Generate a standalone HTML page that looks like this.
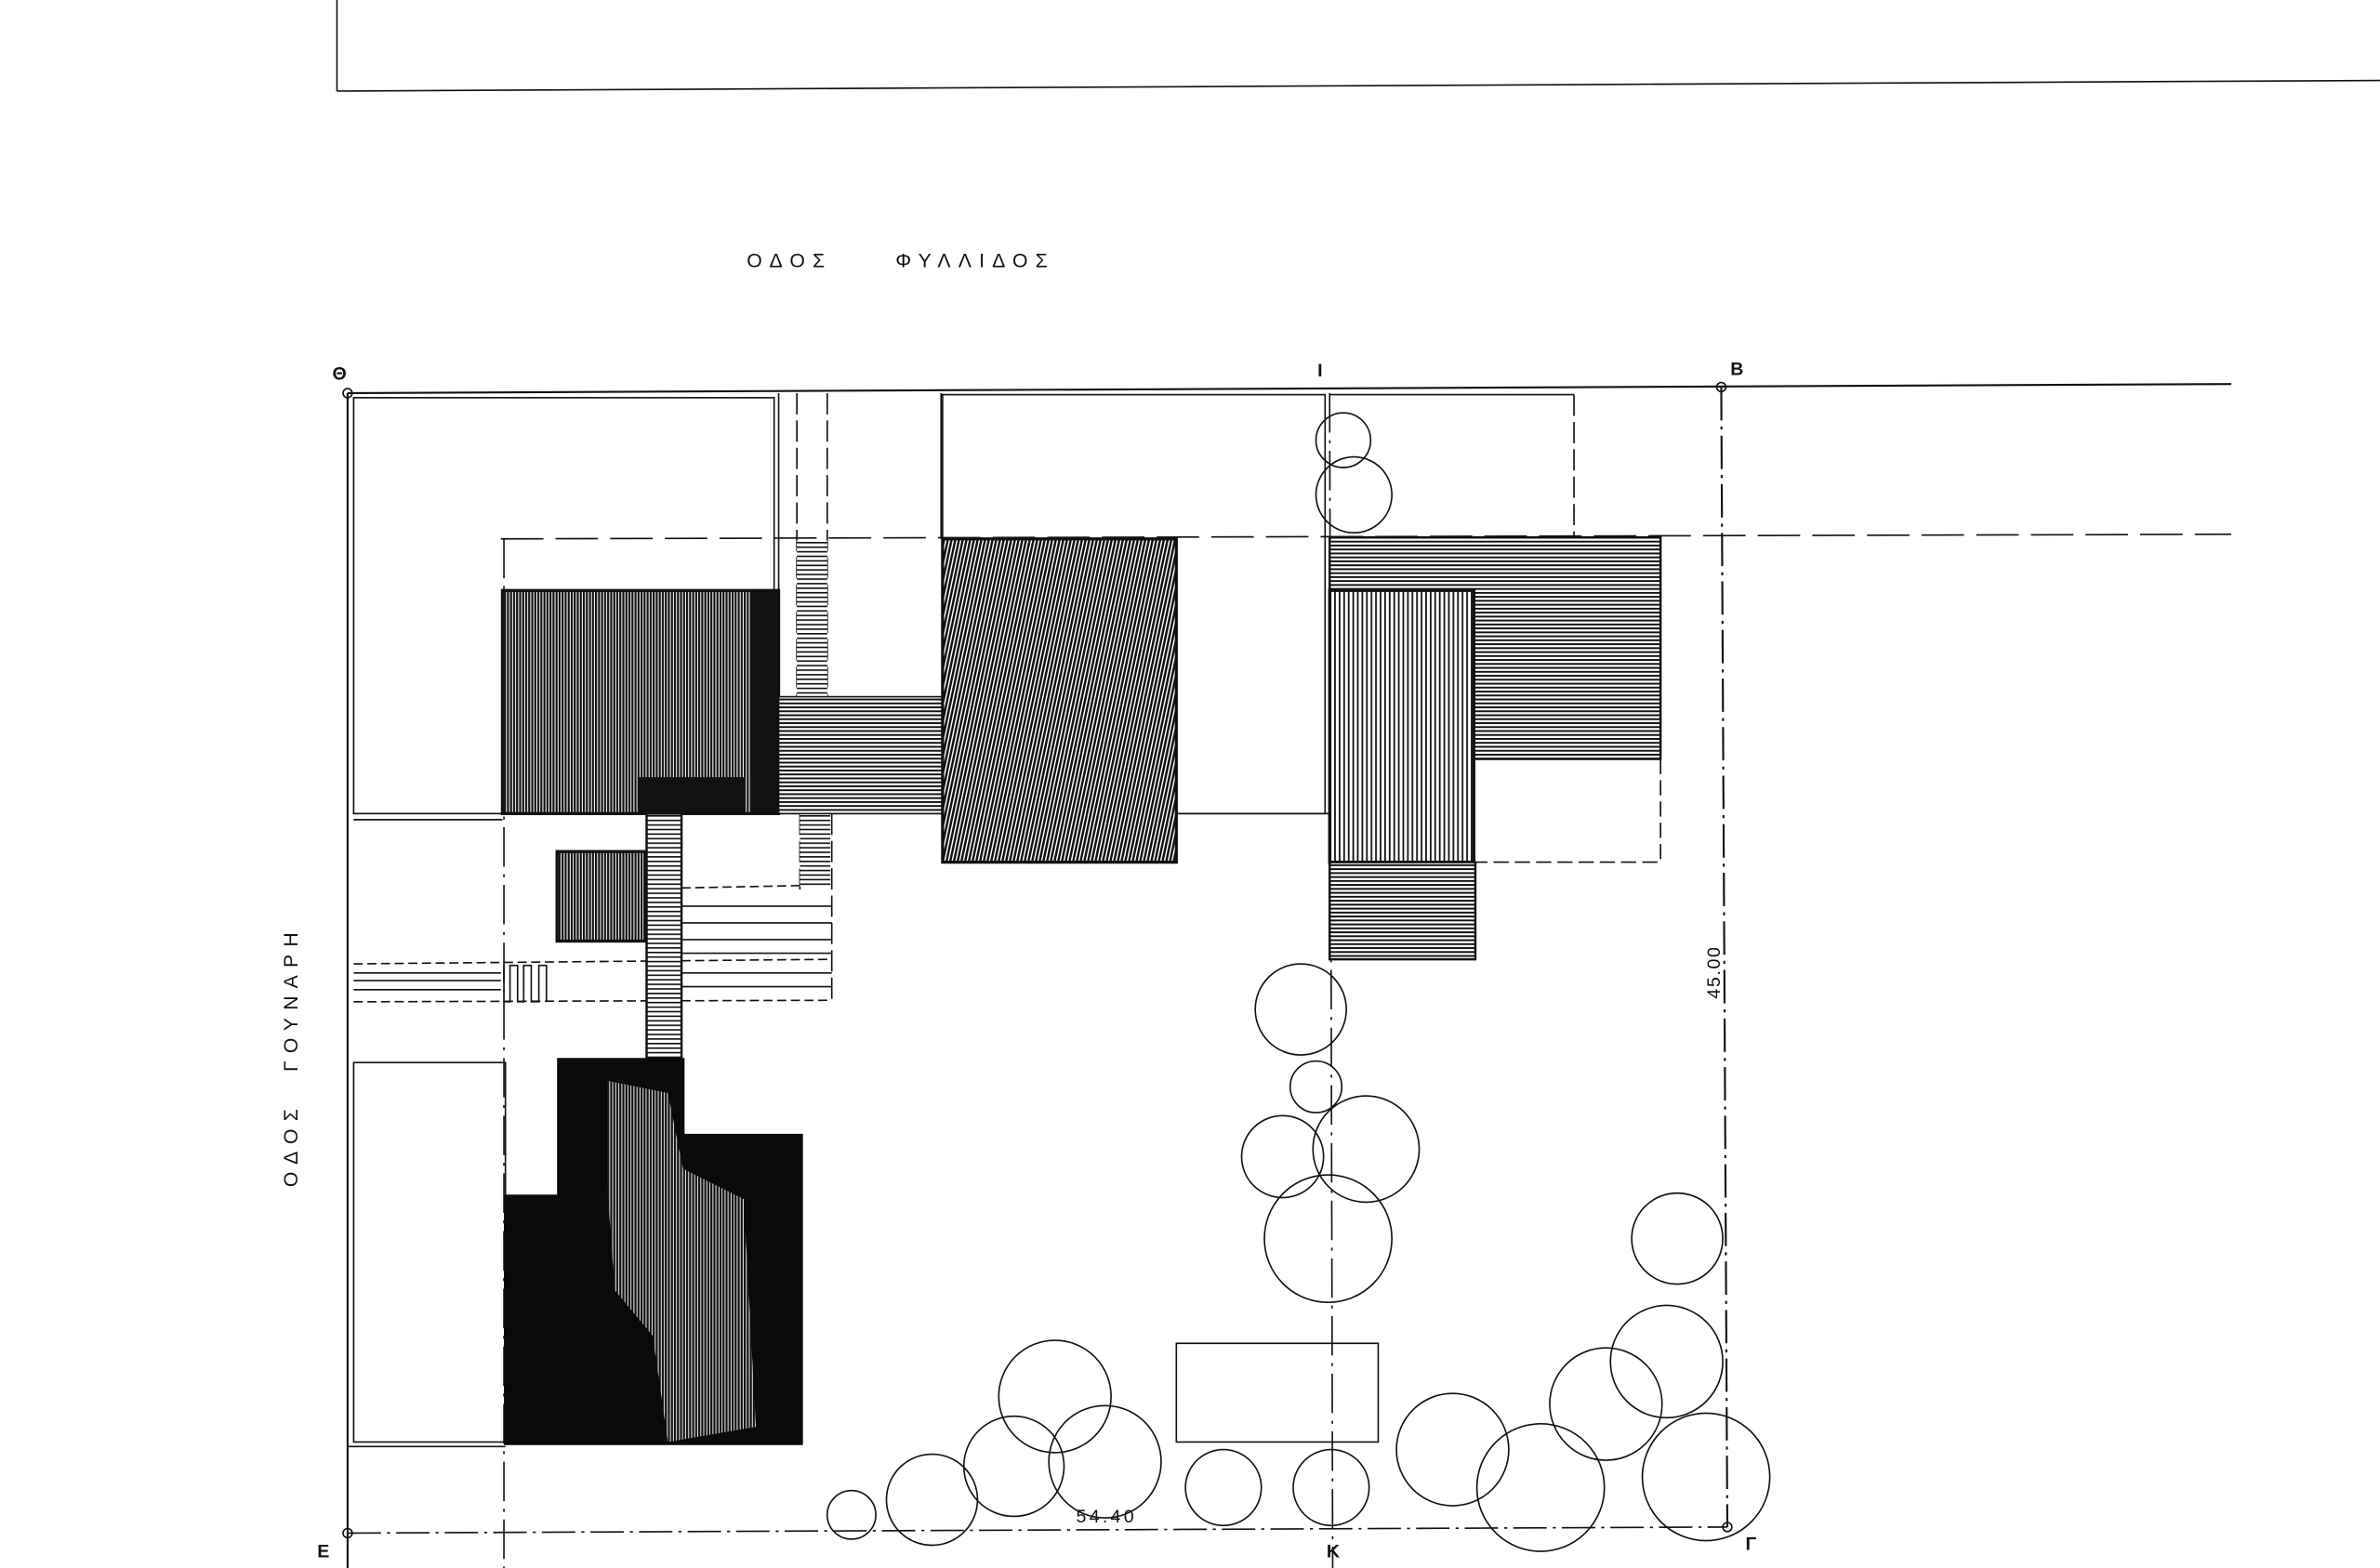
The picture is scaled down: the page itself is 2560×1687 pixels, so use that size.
<!DOCTYPE html>
<html><head><meta charset="utf-8"><style>
html,body{margin:0;padding:0;background:#fff;}
svg{display:block;}
text{font-family:"Liberation Sans",sans-serif;fill:#111;}
</style></head><body>
<svg width="2560" height="1687" viewBox="0 0 1568 1033" preserveAspectRatio="none" xmlns="http://www.w3.org/2000/svg">
<defs>
<pattern id="vh" width="2" height="10" patternUnits="userSpaceOnUse"><rect width="2" height="10" fill="#fff"/><rect width="1.35" height="10" fill="#111"/></pattern>
<pattern id="vh2" width="3" height="10" patternUnits="userSpaceOnUse"><rect width="3" height="10" fill="#fff"/><rect width="1.1" height="10" fill="#111"/></pattern>
<pattern id="hh" width="10" height="2.6" patternUnits="userSpaceOnUse"><rect width="10" height="2.6" fill="#fff"/><rect width="10" height="1.2" fill="#111"/></pattern>
<pattern id="dh" width="2.4" height="10" patternUnits="userSpaceOnUse" patternTransform="rotate(12)"><rect width="2.4" height="10" fill="#fff"/><rect width="1.5" height="10" fill="#111"/></pattern>
<pattern id="st" width="10" height="3" patternUnits="userSpaceOnUse"><rect width="10" height="3" fill="#fff"/><rect width="10" height="1" fill="#111"/></pattern>
</defs>
<g fill="none" stroke="#111" stroke-width="1">
<line x1="222" y1="0" x2="222" y2="60"/>
<line x1="222" y1="60" x2="1568" y2="53"/>
<line x1="229" y1="259" x2="1470" y2="253" stroke-width="1.3"/>
<line x1="229" y1="259" x2="229" y2="1033" stroke-width="1.3"/>
<line x1="229" y1="1010" x2="1138" y2="1006" stroke-dasharray="22 4 2 4"/>
<line x1="1134" y1="255" x2="1138" y2="1006" stroke-dasharray="22 4 2 4" stroke-width="1.3"/>
<line x1="330" y1="355" x2="1470" y2="352" stroke-dasharray="28 8"/>
<line x1="332" y1="355" x2="332" y2="1033" stroke-dasharray="26 5 2 5"/>
<line x1="876" y1="259" x2="878" y2="1033" stroke-dasharray="26 5 2 5"/>
<circle cx="229" cy="259" r="3"/><circle cx="1134" cy="255" r="3"/><circle cx="229" cy="1010" r="3"/><circle cx="1138" cy="1006" r="3"/>
<rect x="233" y="262" width="277" height="274"/>
<polyline points="233,540 331,540"/>
<rect x="621" y="260" width="252" height="276"/>
<polyline points="876,260 1037,260"/>
<line x1="1037" y1="260" x2="1037" y2="354" stroke-dasharray="14 4"/>
<line x1="513" y1="259" x2="513" y2="460"/>
<line x1="620" y1="259" x2="620" y2="355"/>
<line x1="513" y1="536" x2="876" y2="536"/>
<rect x="233" y="700" width="100" height="250"/>
<line x1="229" y1="953" x2="333" y2="953"/>
<polyline points="1094,500 1094,568 972,568" stroke-dasharray="10 4"/>
<line x1="525" y1="259" x2="525" y2="459" stroke-dasharray="14 4"/>
<line x1="545" y1="259" x2="545" y2="459" stroke-dasharray="14 4"/>
<line x1="527" y1="536" x2="527" y2="586" stroke-dasharray="14 4"/>
<line x1="548" y1="536" x2="548" y2="660" stroke-dasharray="14 4"/>
<line x1="449" y1="585" x2="548" y2="583" stroke-dasharray="6 3"/>
<line x1="233" y1="635" x2="548" y2="632" stroke-dasharray="6 3"/>
<line x1="233" y1="660" x2="548" y2="659" stroke-dasharray="6 3"/>
<rect x="775" y="885" width="133" height="65"/>
<circle cx="885" cy="290" r="18"/><circle cx="892" cy="326" r="25"/>
<circle cx="857" cy="665" r="30"/><circle cx="867" cy="716" r="17"/>
<circle cx="845" cy="762" r="27"/><circle cx="900" cy="757" r="35"/><circle cx="875" cy="816" r="42"/>
<circle cx="695" cy="920" r="37"/><circle cx="668" cy="966" r="33"/><circle cx="728" cy="963" r="37"/>
<circle cx="614" cy="988" r="30"/><circle cx="561" cy="998" r="16"/>
<circle cx="806" cy="980" r="25"/><circle cx="877" cy="980" r="25"/>
<circle cx="957" cy="955" r="37"/><circle cx="1015" cy="980" r="42"/><circle cx="1058" cy="925" r="37"/>
<circle cx="1098" cy="897" r="37"/><circle cx="1105" cy="816" r="30"/><circle cx="1124" cy="973" r="42"/>
</g>
<rect x="525" y="356" width="20" height="103" fill="url(#st)"/>
<rect x="527" y="536" width="20" height="48" fill="url(#st)"/>
<g stroke="#111" stroke-width="1">
<line x1="449" y1="597" x2="548" y2="597"/><line x1="449" y1="608" x2="548" y2="608"/><line x1="449" y1="619" x2="548" y2="619"/><line x1="449" y1="628" x2="548" y2="628"/>
<line x1="449" y1="641" x2="548" y2="641"/><line x1="449" y1="650" x2="548" y2="650"/>
<line x1="233" y1="641" x2="330" y2="641"/><line x1="233" y1="646" x2="330" y2="646"/><line x1="233" y1="652" x2="330" y2="652"/>
<polyline fill="none" points="332,636 332,660 336,660 336,636 341,636 341,660 345,660 345,636 350,636 350,660 355,660 355,636 360,636 360,660"/>
</g>
<rect x="331" y="389" width="182" height="147" fill="url(#vh)" stroke="#111" stroke-width="2"/>
<rect x="420" y="512" width="70" height="24" fill="#111"/>
<rect x="495" y="389" width="18" height="147" fill="#111"/>
<rect x="513" y="459" width="108" height="77" fill="url(#hh)" stroke="#111"/>
<rect x="621" y="355" width="154" height="213" fill="url(#dh)" stroke="#111" stroke-width="2"/>
<rect x="876" y="354" width="218" height="146" fill="url(#hh)" stroke="#111" stroke-width="1.5"/>
<rect x="876" y="389" width="95" height="179" fill="url(#vh2)" stroke="#111" stroke-width="2"/>
<rect x="876" y="568" width="96" height="64" fill="url(#hh)" stroke="#111" stroke-width="1.5"/>
<rect x="367" y="561" width="58" height="59" fill="url(#vh)" stroke="#111" stroke-width="2"/>
<rect x="426" y="536" width="23" height="161" fill="url(#st)" stroke="#111" stroke-width="1.5"/>
<path d="M367,697 L451,697 L451,747 L529,747 L529,952 L332,952 L332,787 L367,787 Z" fill="#0a0a0a"/>
<path d="M400,712 L440,720 L450,770 L490,790 L498,940 L440,950 L430,880 L405,850 L400,780 Z" fill="url(#vh)" opacity="0.9"/>
<text x="492" y="176" font-size="13" letter-spacing="5">ΟΔΟΣ</text>
<text x="590" y="176" font-size="13" letter-spacing="5">ΦΥΛΛΙΔΟΣ</text>
<text transform="translate(196,782) rotate(-90)" font-size="13" letter-spacing="5">ΟΔΟΣ</text>
<text transform="translate(196,706) rotate(-90)" font-size="13" letter-spacing="5">ΓΟΥΝΑΡΗ</text>
<text x="219" y="250" font-size="12" font-weight="bold">Θ</text>
<text x="868" y="248" font-size="12" font-weight="bold">Ι</text>
<text x="1140" y="247" font-size="12" font-weight="bold">Β</text>
<text x="209" y="1026" font-size="12" font-weight="bold">Ε</text>
<text x="874" y="1026" font-size="12" font-weight="bold">Κ</text>
<text x="1150" y="1021" font-size="12" font-weight="bold">Γ</text>
<text x="709" y="1003" font-size="12" letter-spacing="2">54.40</text>
<text transform="translate(1133,658) rotate(-90)" font-size="12" letter-spacing="1">45.00</text>
</svg>
</body></html>
